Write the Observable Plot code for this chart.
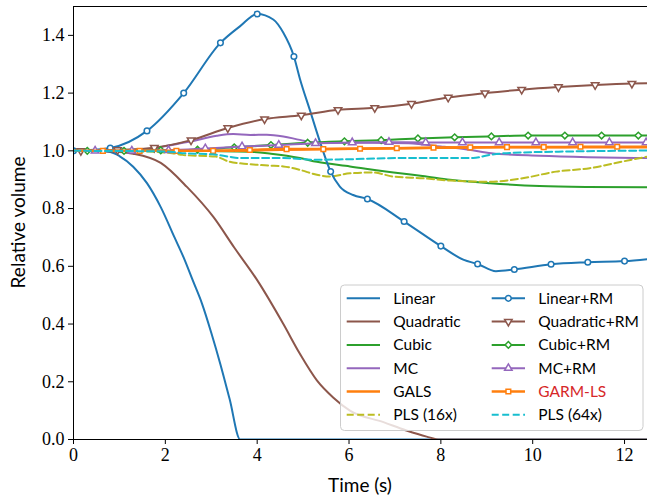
<!DOCTYPE html>
<html>
<head>
<meta charset="utf-8">
<script src="https://cdn.jsdelivr.net/npm/d3@7"></script>
<script src="https://cdn.jsdelivr.net/npm/@observablehq/plot@0.6"></script>
<style>
  html, body { margin: 0; padding: 0; background: #fff; }
  #chart { width: 647px; height: 502px; }
</style>
</head>
<body>
<div id="chart"></div>
<script>
// ---------- Data ----------
const xTicks = [0, 2, 4, 6, 8, 10, 12];
const yTicks = [0, 0.2, 0.4, 0.6, 0.8, 1.0, 1.2, 1.4];

const seriesNames = ["Linear", "Quadratic", "Cubic", "MC", "GALS", "PLS (16x)",
                     "Linear+RM", "Quadratic+RM", "Cubic+RM", "MC+RM", "GARM-LS", "PLS (64x)"];

// Linear
const linearT = [0, 0.5, 0.8, 1.0, 1.3, 1.6, 1.9, 2.2, 2.4, 2.6, 2.8, 3.0, 3.2, 3.4, 3.63, 4, 6, 8, 10, 12.5];
const linearV = [1.0, 1.0, 0.996, 0.982, 0.945, 0.888, 0.805, 0.70, 0.63, 0.55, 0.47, 0.37, 0.26, 0.14, 0.0, 0, 0, 0, 0, 0];
// Quadratic
const quadT = [0, 0.8, 1.3, 1.9, 2.47, 3.05, 3.5, 4.0, 4.57, 4.93, 5.3, 5.66, 6.02, 6.75, 7.25, 7.69, 7.98, 9, 12.5];
const quadV = [1.0, 0.998, 0.99, 0.958, 0.875, 0.77, 0.665, 0.552, 0.40, 0.297, 0.205, 0.145, 0.10, 0.06, 0.031, 0.01, 0.0, 0, 0];
// Cubic
const cubicT = [0, 2, 3, 3.85, 4.3, 4.93, 5.3, 6.02, 7.11, 7.6, 8.2, 9.07, 10.15, 11.17, 12.5];
const cubicV = [1.0, 1.0, 0.999, 0.997, 0.99, 0.975, 0.962, 0.946, 0.922, 0.913, 0.90, 0.888, 0.878, 0.875, 0.874];
// MC
const mcT = [0, 1.5, 1.96, 2.54, 3.12, 3.48, 3.85, 4.21, 4.57, 4.93, 5.3, 6.5, 7.3, 8.0, 8.6, 9.1, 10.15, 11.2, 12.5];
const mcV = [1.0, 1.0, 1.015, 1.032, 1.052, 1.058, 1.055, 1.056, 1.05, 1.038, 1.028, 1.028, 1.026, 1.015, 1.004, 0.992, 0.983, 0.978, 0.975];
// GALS
const galsT = [0, 2, 3, 4, 5, 6, 7, 8, 9, 10, 11, 12.5];
const galsV = [1.0, 1.0, 1.0, 1.002, 1.005, 1.007, 1.009, 1.011, 1.012, 1.012, 1.012, 1.012];
// PLS (16x)
const pls16T = [0, 1.5, 2.15, 2.37, 3.1, 3.38, 3.82, 4.25, 4.57, 4.93, 5.3, 5.59, 6.02, 6.52, 6.96, 7.61, 8.2, 9.07, 9.78, 10.51, 11.24, 11.96, 12.5];
const pls16V = [1.0, 0.998, 0.992, 0.986, 0.98, 0.963, 0.954, 0.949, 0.946, 0.934, 0.917, 0.911, 0.922, 0.925, 0.911, 0.905, 0.897, 0.893, 0.905, 0.928, 0.94, 0.963, 0.98];
// PLS (64x)
const pls64T = [0, 2.0, 2.37, 3.02, 3.38, 3.6, 4.04, 4.57, 5.3, 6.02, 7.11, 8.2, 8.7, 9.07, 9.43, 10.87, 12.5];
const pls64V = [1.0, 0.998, 0.992, 0.988, 0.98, 0.975, 0.975, 0.975, 0.969, 0.971, 0.975, 0.975, 0.975, 0.986, 0.992, 0.998, 1.001];

// Linear+RM (markers + extra line points)
const linRMMarkT = [0, 0.8, 1.6, 2.4, 3.2, 4.0, 4.8, 5.6, 6.4, 7.2, 8.0, 8.8, 9.6, 10.4, 11.2, 12.0];
const linRMMarkV = [1.0, 1.01, 1.069, 1.2, 1.374, 1.474, 1.327, 0.928, 0.833, 0.755, 0.67, 0.608, 0.589, 0.607, 0.614, 0.618];
const linRMExtraT = [3.63, 4.35, 4.57, 4.93, 5.15, 5.37, 5.8, 6.09, 8.5, 9.2, 12.5];
const linRMExtraV = [1.432, 1.455, 1.409, 1.25, 1.14, 1.03, 0.876, 0.847, 0.622, 0.583, 0.625];
// Quadratic+RM
const quadRMMarkT = [0.16, 0.96, 1.76, 2.56, 3.36, 4.16, 4.96, 5.76, 6.56, 7.36, 8.16, 8.96, 9.76, 10.56, 11.36, 12.16];
const quadRMMarkV = [1.0, 1.003, 1.011, 1.037, 1.079, 1.11, 1.123, 1.142, 1.149, 1.163, 1.185, 1.2, 1.212, 1.221, 1.228, 1.233];
const quadRMExtraT = [0, 12.5];
const quadRMExtraV = [1.0, 1.234];
// Cubic+RM
const cubicRMMarkT = [0.3, 1.1, 1.9, 2.7, 3.5, 4.3, 5.1, 5.9, 6.7, 7.5, 8.3, 9.1, 9.9, 10.7, 11.5, 12.3];
const cubicRMMarkV = [1.0, 1.0, 1.002, 1.004, 1.012, 1.02, 1.028, 1.033, 1.037, 1.043, 1.047, 1.05, 1.053, 1.053, 1.053, 1.053];
const cubicRMExtraT = [0, 12.5];
const cubicRMExtraV = [1.0, 1.053];
// MC+RM
const mcRMMarkT = [0.47, 1.27, 2.07, 2.87, 3.67, 4.47, 5.27, 6.07, 6.87, 7.67, 8.47, 9.27, 10.07, 10.87, 11.67, 12.47];
const mcRMMarkV = [1.0, 1.0, 1.002, 1.008, 1.015, 1.02, 1.026, 1.029, 1.03, 1.029, 1.029, 1.029, 1.029, 1.029, 1.029, 1.029];
const mcRMExtraT = [0, 12.5];
const mcRMExtraV = [1.0, 1.029];
// GARM-LS
const garmMarkT = [0.64, 1.44, 2.24, 3.04, 3.84, 4.64, 5.44, 6.24, 7.04, 7.84, 8.64, 9.44, 10.24, 11.04, 11.84];
const garmMarkV = [1.0, 1.0, 1.0, 1.0, 1.003, 1.006, 1.006, 1.007, 1.009, 1.011, 1.012, 1.013, 1.013, 1.014, 1.014];
const garmExtraT = [0, 12.5];
const garmExtraV = [1.0, 1.014];

const colors = {
  blue: "#1f77b4", brown: "#8c564b", green: "#2ca02c", purple: "#9467bd",
  orange: "#ff7f0e", olive: "#bcbd22", cyan: "#17becf", red: "#d62728"
};

// ---------- Helpers ----------
const toRows = (t, v) => t.map((x, i) => ({t: x, v: v[i]}));
const merged = (t1, v1, t2, v2) => toRows(t1.concat(t2), v1.concat(v2)).sort((a, b) => a.t - b.t);

const lineMark = (data, stroke, opts = {}) =>
  Plot.line(data, {x: "t", y: "v", stroke, strokeWidth: 2, curve: "monotone-x", clip: true, ...opts});
const dotMark = (data, stroke, symbol, opts = {}) =>
  Plot.dot(data, {x: "t", y: "v", stroke, symbol, fill: "white", r: 3, strokeWidth: 1.5, clip: true, ...opts});

const dash = "7,3.5";
const serifFont = "'Liberation Serif', 'DejaVu Serif', serif";
const sansFont = "Lato, 'Open Sans', sans-serif";

const plot = Plot.plot({
  width: 647,
  height: 502,
  marginLeft: 73,
  marginRight: 0,
  marginTop: 6,
  marginBottom: 63,
  style: {background: "white"},
  x: {domain: [0, 12.5]},
  y: {domain: [0, 1.5]},
  marks: [
    Plot.axisX({ticks: xTicks, tickSize: 5, tickPadding: 4, tickFormat: d3.format("d"), label: null,
                fontFamily: serifFont, fontSize: 18, fill: "black", stroke: "black"}),
    Plot.axisY({ticks: yTicks, tickSize: 5, tickPadding: 4, tickFormat: d3.format(".1f"), label: null,
                fontFamily: serifFont, fontSize: 18, fill: "black", stroke: "black"}),
    lineMark(toRows(linearT, linearV), colors.blue),
    lineMark(toRows(quadT, quadV), colors.brown),
    lineMark(toRows(cubicT, cubicV), colors.green),
    lineMark(toRows(mcT, mcV), colors.purple),
    lineMark(toRows(galsT, galsV), colors.orange, {strokeWidth: 2.5}),
    lineMark(toRows(pls16T, pls16V), colors.olive, {strokeDasharray: dash}),
    lineMark(merged(linRMMarkT, linRMMarkV, linRMExtraT, linRMExtraV), colors.blue),
    dotMark(toRows(linRMMarkT, linRMMarkV), colors.blue, "circle", {r: 2.8}),
    lineMark(merged(quadRMMarkT, quadRMMarkV, quadRMExtraT, quadRMExtraV), colors.brown),
    dotMark(toRows(quadRMMarkT, quadRMMarkV), colors.brown, "triangle", {rotate: 180, r: 2.8}),
    lineMark(merged(cubicRMMarkT, cubicRMMarkV, cubicRMExtraT, cubicRMExtraV), colors.green),
    dotMark(toRows(cubicRMMarkT, cubicRMMarkV), colors.green, "diamond2", {r: 3}),
    lineMark(merged(mcRMMarkT, mcRMMarkV, mcRMExtraT, mcRMExtraV), colors.purple),
    dotMark(toRows(mcRMMarkT, mcRMMarkV), colors.purple, "triangle", {r: 2.8}),
    lineMark(merged(garmMarkT, garmMarkV, garmExtraT, garmExtraV), colors.orange, {strokeWidth: 2.5}),
    dotMark(toRows(garmMarkT, garmMarkV), colors.orange, "square", {r: 2.6}),
    lineMark(toRows(pls64T, pls64V), colors.cyan, {strokeDasharray: dash}),
    Plot.frame({stroke: "black", strokeWidth: 1})
  ]
});

document.getElementById("chart").appendChild(plot);

// ---------- Axis labels & legend (appended to the Plot SVG) ----------
const svg = d3.select(plot);

svg.append("text")
  .attr("x", 360).attr("y", 492)
  .attr("text-anchor", "middle")
  .attr("font-family", sansFont).attr("font-size", 19).attr("fill", "black")
  .text("Time (s)");

svg.append("text")
  .attr("transform", "translate(25,222.5) rotate(-90)")
  .attr("text-anchor", "middle")
  .attr("font-family", sansFont).attr("font-size", 19).attr("fill", "black")
  .text("Relative volume");

const legendItems = [
  {label: seriesNames[0], color: colors.blue},
  {label: seriesNames[1], color: colors.brown},
  {label: seriesNames[2], color: colors.green},
  {label: seriesNames[3], color: colors.purple},
  {label: seriesNames[4], color: colors.orange},
  {label: seriesNames[5], color: colors.olive, dash: true},
  {label: seriesNames[6], color: colors.blue, symbol: d3.symbolCircle, size: 26},
  {label: seriesNames[7], color: colors.brown, symbol: d3.symbolTriangle, rotate: 180, size: 24},
  {label: seriesNames[8], color: colors.green, symbol: d3.symbolDiamond2, size: 28},
  {label: seriesNames[9], color: colors.purple, symbol: d3.symbolTriangle, size: 24},
  {label: seriesNames[10], color: colors.orange, symbol: d3.symbolSquare, size: 22, textColor: colors.red},
  {label: seriesNames[11], color: colors.cyan, dash: true}
];

const lg = svg.append("g");
lg.append("rect")
  .attr("x", 340.5).attr("y", 285).attr("width", 302.5).attr("height", 145.5)
  .attr("rx", 4).attr("fill", "white").attr("fill-opacity", 0.8)
  .attr("stroke", "#cccccc").attr("stroke-width", 1);

legendItems.forEach((d, i) => {
  const col = Math.floor(i / 6), row = i % 6;
  const x0 = col === 0 ? 346.7 : 491.7;
  const y = 298.3 + row * 23.3;
  lg.append("line")
    .attr("x1", x0).attr("x2", x0 + 33.3).attr("y1", y).attr("y2", y)
    .attr("stroke", d.color).attr("stroke-width", d.color === colors.orange ? 2.5 : 2)
    .attr("stroke-dasharray", d.dash ? dash : null);
  if (d.symbol) {
    lg.append("path")
      .attr("d", d3.symbol(d.symbol, d.size)())
      .attr("transform", `translate(${x0 + 16.65},${y})` + (d.rotate ? ` rotate(${d.rotate})` : ""))
      .attr("fill", "white").attr("stroke", d.color).attr("stroke-width", 1.5);
  }
  lg.append("text")
    .attr("x", x0 + 46.6).attr("y", y).attr("dy", "0.36em")
    .attr("text-anchor", "start")
    .attr("font-family", sansFont).attr("font-size", 15.5)
    .attr("fill", d.textColor || "black")
    .text(d.label);
});
</script>
</body>
</html>
